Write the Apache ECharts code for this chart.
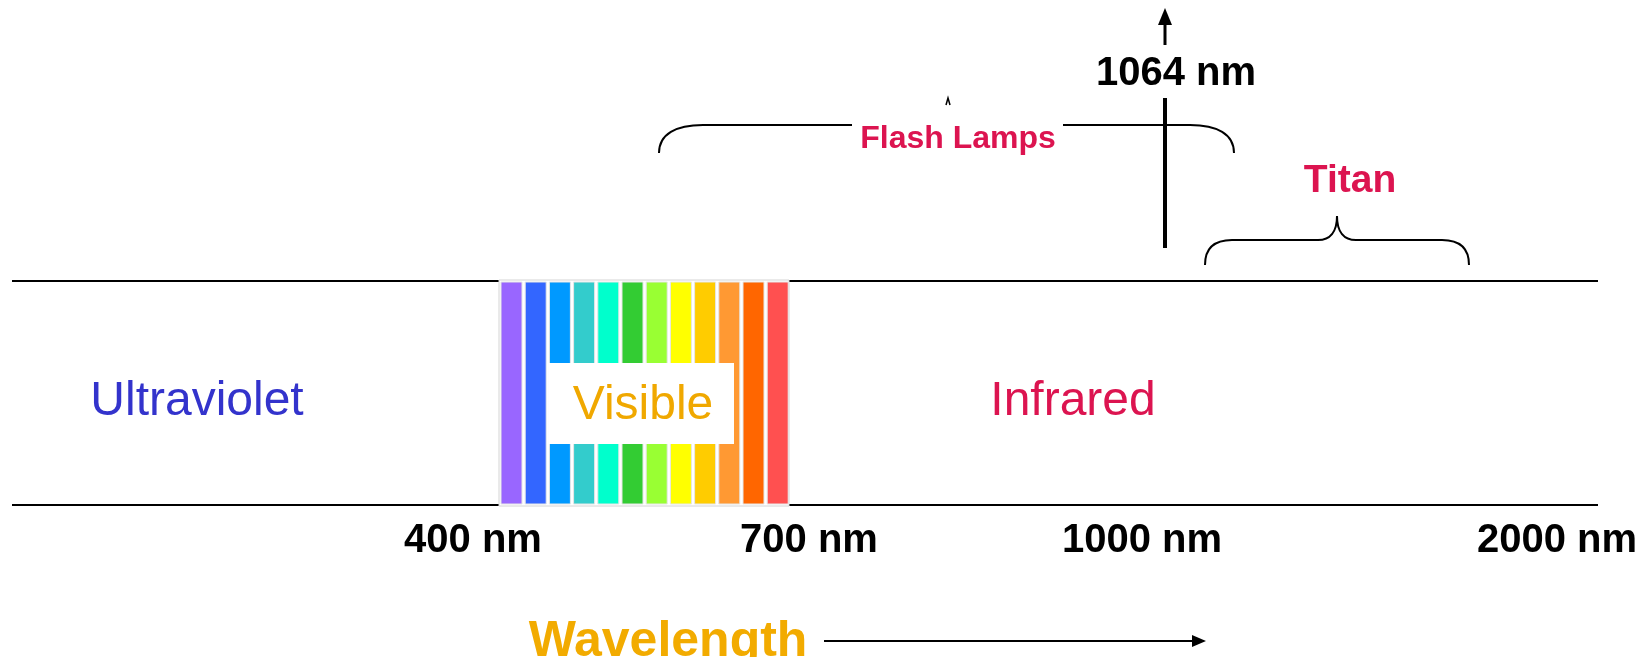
<!DOCTYPE html>
<html><head><meta charset="utf-8">
<script src="https://cdn.jsdelivr.net/npm/echarts@6/dist/echarts.min.js"></script>
<style>html,body{margin:0;padding:0;background:#fff}#c{width:1646px;height:657px}</style>
</head><body><div id="c"></div>
<script>
// ---- data ----
const spectrumColors = ['#9966FF','#3366FF','#0099FF','#33CCCC','#00FFCC','#33CC33','#99FF33','#FFFF00','#FFCC00','#FF9933','#FF6600','#FF5050'];
const bandNames = ['Ultraviolet','Visible','Infrared'];
const bandColors = ['#3333CC','#F0A800','#DC1450'];
const tickLabels = ['400 nm','700 nm','1000 nm','2000 nm'];
const sourceNames = ['Flash Lamps','Titan'];
const laserLabel = '1064 nm';
const axisTitle = 'Wavelength';

// ---- layout (diagram units = pixels of the 1646x657 canvas) ----
const L = {
  lineX0: 12, lineX1: 1598, lineTop: 281, lineBot: 505,
  specBox: [499, 280, 789, 506],
  barX0: 501, barPitch: 24.2, barW: 21, barTop: 282, barBot: 504,
  visBox: [549, 363, 734, 444],
  bandPos: [[197, 402], [643, 406], [1073, 402]],
  tickPos: [[473, 541], [809, 541], [1142, 541], [1557, 541]],
  laserX: 1165, laserY0: 98, laserY1: 248,
  laserLabelPos: [1176, 74],
  flashLabelPos: [958, 139], titanLabelPos: [1350, 181],
  titlePos: [668, 642], arrow: [824, 1206, 641]
};
const FONT = 'Liberation Sans, Arial, sans-serif';

const chart = echarts.init(document.getElementById('c'));

function frameRender(params, api) {
  const c = (x, y) => api.coord([x, y]);
  const pt = (x, y) => { const p = c(x, y); return p[0] + ' ' + p[1]; };
  const line = (x1, y1, x2, y2, w) => {
    const a = c(x1, y1), b = c(x2, y2);
    return { type: 'line', shape: { x1: a[0], y1: a[1], x2: b[0], y2: b[1] }, style: { stroke: '#000', lineWidth: w } };
  };
  const rect = (box, fill, stroke) => {
    const a = c(box[0], box[1]), b = c(box[2], box[3]);
    return { type: 'rect', shape: { x: a[0], y: a[1], width: b[0] - a[0], height: b[1] - a[1] }, style: { fill: fill, stroke: stroke || null, lineWidth: 1 } };
  };
  const text = (str, pos, size, color, bold) => {
    const p = c(pos[0], pos[1]);
    return { type: 'text', style: { text: str, x: p[0], y: p[1], fill: color, font: (bold ? 'bold ' : '') + size + 'px ' + FONT, align: 'center', verticalAlign: 'middle' } };
  };
  const path = (d, w) => ({ type: 'path', shape: { pathData: d }, style: { stroke: '#000', lineWidth: w, fill: null } });

  const ch = [];
  // horizontal boundary lines
  ch.push(line(L.lineX0, L.lineTop, L.lineX1, L.lineTop, 2));
  ch.push(line(L.lineX0, L.lineBot, L.lineX1, L.lineBot, 2));
  // white frame behind spectrum
  ch.push(rect(L.specBox, '#fff', '#d4d4d4'));
  // band labels & tick labels
  ch.push(text(bandNames[0], L.bandPos[0], 48, bandColors[0], false));
  ch.push(text(bandNames[2], L.bandPos[2], 48, bandColors[2], false));
  tickLabels.forEach((t, i) => ch.push(text(t, L.tickPos[i], 40, '#000', true)));
  // 1064 nm laser line with arrow
  ch.push(line(L.laserX, L.laserY0, L.laserX, L.laserY1, 4));
  ch.push(line(L.laserX, 23, L.laserX, 45, 3));
  ch.push({ type: 'polygon', shape: { points: [c(L.laserX, 8), c(L.laserX + 7, 25), c(L.laserX - 7, 25)] }, style: { fill: '#000' } });
  ch.push(text(laserLabel, L.laserLabelPos, 40, '#000', true));
  // Flash Lamps brace (middle hidden by its label)
  ch.push(path('M' + pt(659, 153) + ' C' + pt(659, 134) + ' ' + pt(676, 125) + ' ' + pt(703, 125) + ' L' + pt(852, 125), 2));
  ch.push(path('M' + pt(1063, 125) + ' L' + pt(1190, 125) + ' C' + pt(1217, 125) + ' ' + pt(1234, 134) + ' ' + pt(1234, 153), 2));
  ch.push(path('M' + pt(946, 105) + ' L' + pt(948, 98) + ' L' + pt(950, 105), 1.5));
  ch.push(text(sourceNames[0], L.flashLabelPos, 32, '#DC1450', true));
  // Titan brace
  ch.push(path('M' + pt(1205, 265) + ' C' + pt(1205, 249) + ' ' + pt(1213, 240) + ' ' + pt(1232, 240) +
    ' L' + pt(1318, 240) + ' C' + pt(1330, 240) + ' ' + pt(1337, 232) + ' ' + pt(1337, 216) +
    ' C' + pt(1337, 232) + ' ' + pt(1344, 240) + ' ' + pt(1356, 240) +
    ' L' + pt(1442, 240) + ' C' + pt(1461, 240) + ' ' + pt(1469, 249) + ' ' + pt(1469, 265), 2));
  ch.push(text(sourceNames[1], L.titanLabelPos, 39, '#DC1450', true));
  // axis title & arrow
  ch.push(text(axisTitle, L.titlePos, 50, '#F2AB00', true));
  ch.push(line(L.arrow[0], L.arrow[2], L.arrow[1] - 10, L.arrow[2], 2));
  ch.push({ type: 'polygon', shape: { points: [c(L.arrow[1], L.arrow[2]), c(L.arrow[1] - 14, L.arrow[2] - 6), c(L.arrow[1] - 14, L.arrow[2] + 6)] }, style: { fill: '#000' } });
  return { type: 'group', children: ch };
}

function barRender(params, api) {
  const i = api.value(0);
  const x0 = L.barX0 + i * L.barPitch;
  const a = api.coord([x0, L.barTop]), b = api.coord([x0 + L.barW, L.barBot]);
  return { type: 'rect', shape: { x: a[0], y: a[1], width: b[0] - a[0], height: b[1] - a[1] }, style: { fill: spectrumColors[i], stroke: '#e6e6e6', lineWidth: 1 } };
}

function visRender(params, api) {
  const a = api.coord([L.visBox[0], L.visBox[1]]), b = api.coord([L.visBox[2], L.visBox[3]]);
  const p = api.coord(L.bandPos[1]);
  return { type: 'group', children: [
    { type: 'rect', shape: { x: a[0], y: a[1], width: b[0] - a[0], height: b[1] - a[1] }, style: { fill: '#fff' } },
    { type: 'text', style: { text: bandNames[1], x: p[0], y: p[1], fill: bandColors[1], font: '48px ' + FONT, align: 'center', verticalAlign: 'middle' } }
  ] };
}

chart.setOption({
  animation: false,
  grid: { left: 0, right: 0, top: 0, bottom: 0 },
  xAxis: { type: 'value', min: 0, max: 1646, show: false },
  yAxis: { type: 'value', min: 0, max: 657, inverse: true, show: false },
  series: [
    { type: 'custom', name: 'frame', renderItem: frameRender, data: [[0]], z: 1, silent: true, clip: false },
    { type: 'custom', name: 'spectrum', renderItem: barRender, data: spectrumColors.map((c, i) => [i]), z: 2, silent: true, clip: false },
    { type: 'custom', name: 'visible', renderItem: visRender, data: [[0]], z: 3, silent: true, clip: false }
  ]
});
</script></body></html>
